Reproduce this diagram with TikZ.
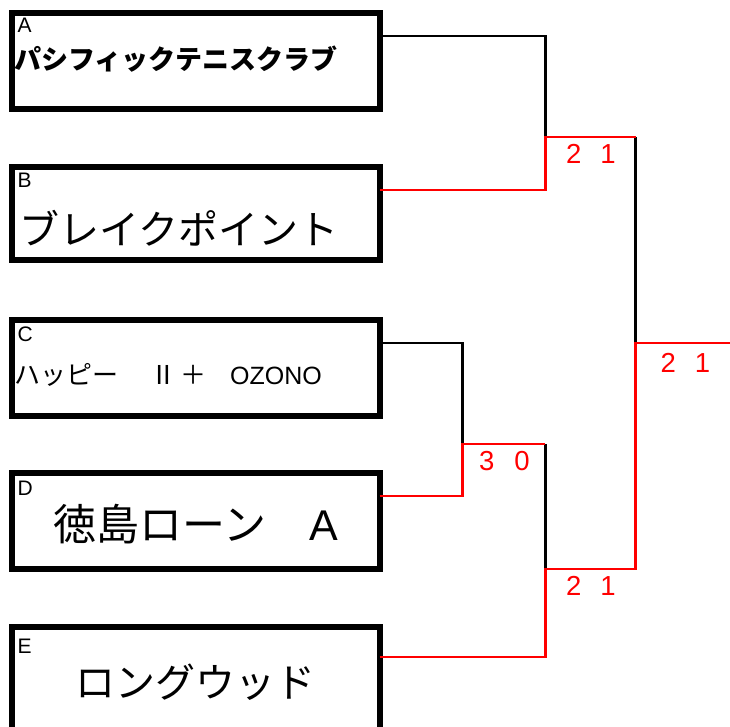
\documentclass[tikz,border=0pt]{standalone}
\usepackage{fontspec}
\setmainfont{Liberation Sans}
\newfontfamily\jp{Noto Sans CJK JP}
\tikzset{
  box/.style={draw=black, line width=6pt, rectangle, inner sep=0pt, outer sep=0pt, minimum width=367.5pt},
  lbl/.style={anchor=base west, inner sep=0pt, font=\fontsize{21pt}{21pt}\selectfont},
  team/.style={inner sep=0pt},
  score/.style={anchor=base west, inner sep=0pt, text=red, font=\fontsize{27.5pt}{27.5pt}\selectfont},
  lose/.style={draw=black, line width=2.8pt},
  win/.style={draw=red, line width=2.8pt},
}
\begin{document}
\begin{tikzpicture}[x=1pt,y=-1pt]
\useasboundingbox (0,0) rectangle (730,726);
\clip (0,0) rectangle (730,726);
% boxes
\node[box, minimum height=95.5pt] (A) at (195.75,60.75) {};
\node[box, minimum height=93pt] (B) at (195.75,213.5) {};
\node[box, minimum height=96pt] (C) at (195.75,368) {};
\node[box, minimum height=95.5pt] (D) at (195.75,520.75) {};
\node[box, minimum height=150pt] (E) at (195.75,702) {};
% letter labels
\node[lbl] (lA) at (17.5,32) {A};
\node[lbl] (lB) at (17.5,187) {B};
\node[lbl] (lC) at (17.5,341.5) {C};
\node[lbl] (lD) at (17.5,495) {D};
\node[lbl] (lE) at (17.5,653) {E};
% team names
\node[team, anchor=base west, font=\jp\bfseries\fontsize{27pt}{27pt}\selectfont] (tA) at (14,69.5) {パシフィックテニスクラブ};
\node[team, anchor=base west, font=\jp\fontsize{40pt}{40pt}\selectfont] (tB) at (19,244) {ブレイクポイント};
\node[team, anchor=base west, font=\fontsize{26pt}{26pt}\selectfont] (tC) at (14,384)
  {{\jp ハッピー\hspace{32pt}Ⅱ\hspace{4pt}＋}\hspace{24pt}{\fontsize{25pt}{25pt}\selectfont OZONO}};
\node[team, anchor=base, font=\jp\fontsize{43pt}{43pt}\selectfont] (tD) at (195.75,540) {徳島ローン　{\fontspec{Liberation Sans}A}};
\node[team, anchor=base, font=\jp\fontsize{40pt}{40pt}\selectfont] (tE) at (195.75,697) {ロングウッド};
% connector points
\coordinate (pA) at ([yshift=-23pt]A.north east);
\coordinate (pB) at ([yshift=-23pt]B.north east);
\coordinate (pC) at ([yshift=-23pt]C.north east);
\coordinate (pD) at ([yshift=-23pt]D.north east);
\coordinate (pE) at ([yshift=-30pt]E.north east);
\coordinate (jAB) at (545.3,137);
\coordinate (tF) at (635.7,137);
\coordinate (jF) at (635.7,343);
\coordinate (bF) at (635.7,569);
\coordinate (endF) at (732,343);
\coordinate (jCD) at (462.3,444);
\coordinate (tS) at (545.3,444);
\coordinate (jS) at (545.3,569);
% connectors
\draw[lose] (pA) -| (jAB);
\draw[lose] (tF) -- (jF);
\draw[lose] (pC) -| (jCD);
\draw[lose] (tS) -- (jS);
\draw[win] (pB) -| (jAB) -- (tF);
\draw[win] (pD) -| (jCD) -- (tS);
\draw[win] (pE) -| (jS) -- (bF) -- (jF) -- (endF);
% scores
\node[score] (sAB) at (566,163) {2\hspace{19pt}1};
\node[score] (sF) at (660.5,372.7) {2\hspace{19pt}1};
\node[score] (sCD) at (479,470) {3\hspace{20pt}0};
\node[score] (sS) at (566,595) {2\hspace{19pt}1};
\end{tikzpicture}
\end{document}
